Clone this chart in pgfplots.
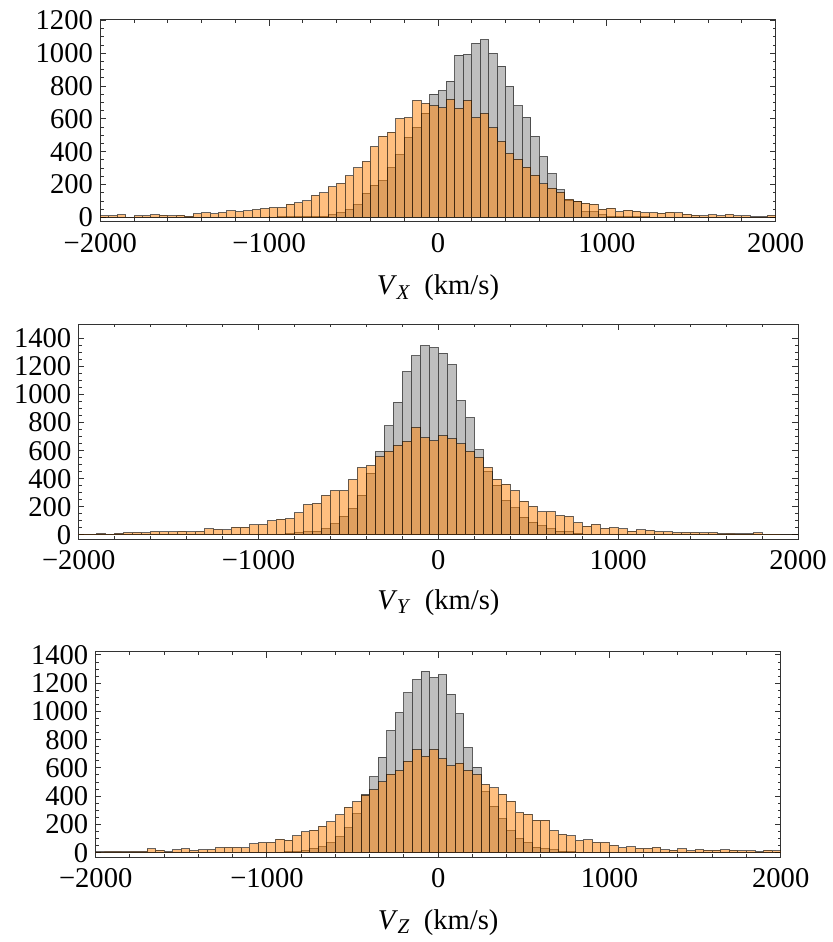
\documentclass[border=0pt]{standalone}
\usepackage{fontspec}
\setmainfont{Liberation Serif}
\usepackage{pgfplots}
\usepackage{pgfplotstable}
\pgfplotsset{compat=1.18}

% velocity histograms, 50 km/s bins; columns: bin left edge, gray counts, orange counts
\pgfplotstableread{
x g o
-2000 0 10
-1950 0 10
-1900 0 16
-1850 0 2
-1800 0 10
-1750 0 10
-1700 0 16
-1650 0 14
-1600 0 10
-1550 0 14
-1500 0 8
-1450 0 22
-1400 0 28
-1350 0 22
-1300 0 30
-1250 0 40
-1200 0 36
-1150 0 40
-1100 1 47
-1050 2 53
-1000 2 59
-950 3 59
-900 4 81
-850 5 89
-800 6 101
-750 7 134
-700 8 150
-650 16 186
-600 28 207
-550 47 253
-500 77 302
-450 146 342
-400 197 432
-350 223 496
-300 302 519
-250 381 602
-200 488 608
-150 549 713
-100 636 695
-50 752 681
0 772 667
50 831 719
100 989 665
150 993 713
200 1060 608
250 1084 634
300 999 547
350 922 464
400 798 391
450 679 355
500 610 306
550 494 257
600 371 205
650 267 178
700 168 154
750 105 111
800 95 99
850 34 87
900 34 81
950 16 51
1000 6 57
1050 5 36
1100 4 45
1150 3 38
1200 3 30
1250 2 30
1300 1 26
1350 1 32
1400 1 28
1450 0 20
1500 0 14
1550 0 10
1600 0 16
1650 0 10
1700 0 18
1750 0 10
1800 0 10
1850 0 4
1900 0 4
1950 0 12
2000 0 0
}\tabX

\pgfplotstableread{
x g o
-2000 0 5
-1950 0 5
-1900 0 9
-1850 0 5
-1800 0 12
-1750 0 17
-1700 0 19
-1650 0 14
-1600 0 24
-1550 0 21
-1500 0 21
-1450 0 28
-1400 0 21
-1350 0 26
-1300 0 43
-1250 0 40
-1200 0 36
-1150 0 55
-1100 1 55
-1050 1 71
-1000 2 74
-950 3 100
-900 5 112
-850 7 116
-800 17 157
-750 21 216
-700 26 225
-650 45 282
-600 78 316
-550 133 316
-500 187 394
-450 282 479
-400 439 493
-350 593 558
-300 776 595
-250 944 638
-200 1163 667
-150 1276 766
-100 1348 693
-50 1333 669
0 1293 707
50 1212 686
100 956 650
150 835 595
200 605 553
250 451 482
300 354 396
350 244 361
400 192 316
450 126 240
500 90 204
550 64 164
600 43 166
650 28 138
700 21 133
750 12 88
800 5 62
850 2 76
900 1 47
950 1 52
1000 0 43
1050 0 28
1100 0 36
1150 0 33
1200 0 24
1250 0 21
1300 0 17
1350 0 19
1400 0 19
1450 0 14
1500 0 17
1550 0 9
1600 0 12
1650 0 7
1700 0 7
1750 0 14
1800 0 5
1850 0 5
1900 0 2
1950 0 2
2000 0 0
}\tabY

\pgfplotstableread{
x g o
-2000 0 5
-1950 0 9
-1900 0 9
-1850 0 7
-1800 0 9
-1750 0 9
-1700 0 26
-1650 0 17
-1600 0 5
-1550 0 19
-1500 0 26
-1450 0 14
-1400 0 19
-1350 0 21
-1300 0 36
-1250 0 38
-1200 0 38
-1150 0 33
-1100 1 62
-1050 1 71
-1000 2 73
-950 3 95
-900 5 88
-850 7 118
-800 14 147
-750 31 159
-700 40 187
-650 69 218
-600 111 267
-550 175 322
-500 275 362
-450 412 407
-400 537 447
-350 677 502
-300 864 556
-250 992 580
-200 1131 649
-150 1226 729
-100 1283 682
-50 1240 731
0 1259 665
50 1120 615
100 982 634
150 743 582
200 606 554
250 431 483
300 327 459
350 239 414
400 154 364
450 99 284
500 71 272
550 38 230
600 28 230
650 19 156
700 9 130
750 5 118
800 2 85
850 1 90
900 1 73
950 0 73
1000 0 52
1050 0 33
1100 0 40
1150 0 31
1200 0 31
1250 0 38
1300 0 19
1350 0 17
1400 0 26
1450 0 12
1500 0 21
1550 0 17
1600 0 17
1650 0 19
1700 0 17
1750 0 12
1800 0 12
1850 0 5
1900 0 17
1950 0 12
2000 0 0
}\tabZ

\newcommand{\vlab}[1]{\textit{V}\kern-0.02em\raisebox{-0.32ex}{\fontsize{10.5}{12}\selectfont\textit{#1}}\hspace{0.5em}(km/s)}

\pgfplotsset{
  histo/.style={
    scale only axis,
    anchor=south west,
    xmin=-2000, xmax=2000,
    xtick={-2000,-1000,0,1000,2000},
    xticklabels={−2000,−1000,0,1000,2000},
    minor x tick num=4,
    minor y tick num=3,
    tick align=inside,
    major tick length=2.8pt,
    minor tick length=1.6pt,
    axis line style={black!80, line width=0.5pt},
    tick style={black!80, line width=0.5pt},
    tick label style={font=\fontsize{14.3}{16}\selectfont},
    /pgf/number format/assume math mode=true,
    /pgf/number format/set thousands separator={},
    yticklabel style={inner xsep=3.5pt, inner ysep=0pt},
    xticklabel style={inner ysep=5.5pt, inner xsep=0pt},
    label style={font=\fontsize{14.3}{16}\selectfont},
  },
  gbar/.style={ybar interval, fill=gray, fill opacity=0.5,
    draw=black, draw opacity=0.6, line width=0.5pt},
  obar/.style={ybar interval, fill=orange, fill opacity=0.5,
    draw=black, draw opacity=0.6, line width=0.5pt},
}

\begin{document}
\begin{tikzpicture}
\useasboundingbox (0,0) rectangle (416.5pt,471pt);

\begin{axis}[histo,
  at={(50.15pt,360.15pt)}, width=337.7pt, height=100.85pt,
  ymin=-26, ymax=1203, ytick={0,200,...,1200},
  xlabel={\vlab{X}},
  xlabel style={at={(axis description cs:0.5,0)}, anchor=center, yshift=-33.2pt}]
  \addplot[gbar] table[x=x, y=g] {\tabX};
  \addplot[obar] table[x=x, y=o] {\tabX};
\end{axis}

\begin{axis}[histo,
  at={(39.35pt,201.35pt)}, width=359.65pt, height=107.5pt,
  ymin=-31, ymax=1500, ytick={0,200,...,1400},
  xlabel={\vlab{Y}},
  xlabel style={at={(axis description cs:0.5,0)}, anchor=center, yshift=-31.8pt}]
  \addplot[gbar] table[x=x, y=g] {\tabY};
  \addplot[obar] table[x=x, y=o] {\tabY};
\end{axis}

\begin{axis}[histo,
  at={(47.85pt,42.35pt)}, width=342.5pt, height=102.65pt,
  ymin=-33, ymax=1421, ytick={0,200,...,1400},
  xlabel={\vlab{Z}},
  xlabel style={at={(axis description cs:0.5,0)}, anchor=center, yshift=-32.5pt}]
  \addplot[gbar] table[x=x, y=g] {\tabZ};
  \addplot[obar] table[x=x, y=o] {\tabZ};
\end{axis}
\end{tikzpicture}
\end{document}
